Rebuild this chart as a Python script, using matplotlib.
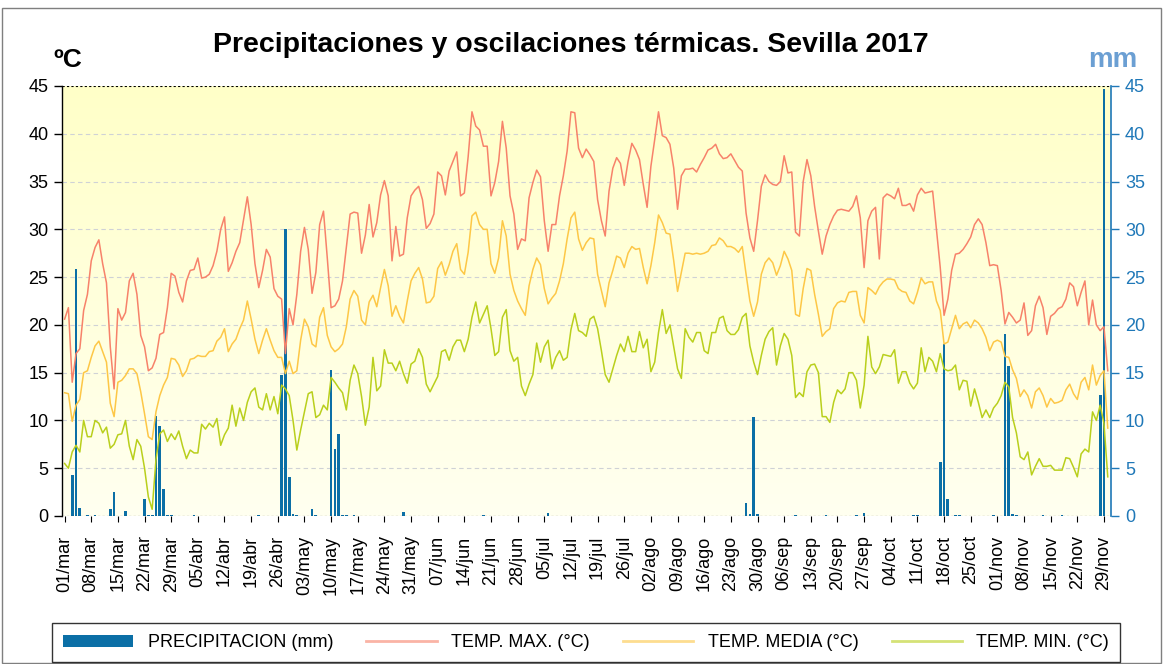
import numpy as np
import pandas as pd
import matplotlib
matplotlib.use("Agg")
import matplotlib.pyplot as plt
from matplotlib import font_manager
from matplotlib.patches import Rectangle
from matplotlib.colors import LinearSegmentedColormap

# ---------------- data ----------------
start_date = "2017-03-01"
end_date = "2017-11-30"
month_abbr = ["ene", "feb", "mar", "abr", "may", "jun", "jul", "ago", "sep", "oct", "nov", "dic"]

precip = [
    0, 0, 4.3, 25.9, 0.8, 0, 0.1, 0, 0.1, 0,
    0, 0, 0.7, 2.5, 0, 0, 0.5, 0, 0, 0,
    0, 1.8, 0.1, 0.1, 10.5, 9.4, 2.8, 0.1, 0.1, 0,
    0, 0, 0, 0, 0.1, 0, 0, 0, 0, 0,
    0, 0, 0, 0, 0, 0, 0, 0, 0, 0,
    0, 0.1, 0, 0, 0, 0, 0, 14.8, 30.0, 4.1,
    0.2, 0.1, 0, 0, 0, 0.7, 0.1, 0, 0, 0,
    15.3, 7.0, 8.6, 0.1, 0.1, 0, 0.1, 0, 0, 0,
    0, 0, 0, 0, 0, 0, 0, 0, 0, 0.4,
    0, 0, 0, 0, 0, 0, 0, 0, 0, 0,
    0, 0, 0, 0, 0, 0, 0, 0, 0, 0,
    0.1, 0, 0, 0, 0, 0, 0, 0, 0, 0,
    0, 0, 0, 0, 0, 0, 0, 0.3, 0, 0,
    0, 0, 0, 0, 0, 0, 0, 0, 0, 0,
    0, 0, 0, 0, 0, 0, 0, 0, 0, 0,
    0, 0, 0, 0, 0, 0, 0, 0, 0, 0,
    0, 0, 0, 0, 0, 0, 0, 0, 0, 0,
    0, 0, 0, 0, 0, 0, 0, 0, 0, 1.4,
    0.2, 10.4, 0.2, 0, 0, 0, 0, 0, 0, 0,
    0, 0, 0.1, 0, 0, 0, 0, 0, 0, 0,
    0.1, 0, 0, 0, 0, 0, 0, 0, 0.1, 0,
    0.3, 0, 0, 0, 0, 0, 0, 0, 0, 0,
    0, 0, 0, 0.1, 0.1, 0, 0, 0, 0, 0,
    5.7, 18.0, 1.8, 0, 0.1, 0.1, 0, 0, 0, 0,
    0, 0, 0, 0, 0.1, 0, 0, 19.0, 15.7, 0.2,
    0.1, 0, 0, 0, 0, 0, 0, 0.1, 0, 0,
    0, 0, 0.1, 0, 0, 0, 0, 0, 0, 0,
    0, 0, 12.7, 44.7, 0,
]

tmax = [
    20.6, 21.8, 14.0, 17.0, 17.5, 21.5, 23.2, 26.7, 28.1, 28.9,
    26.4, 24.4, 17.7, 13.3, 21.7, 20.5, 21.3, 24.6, 25.4, 23.2,
    18.9, 17.7, 15.2, 15.5, 16.5, 19.0, 19.2, 21.8, 25.4, 25.1,
    23.4, 22.4, 24.6, 25.7, 25.8, 27.0, 24.9, 25.0, 25.3, 26.2,
    27.7, 30.0, 31.3, 25.6, 26.5, 27.7, 28.6, 31.0, 33.4, 30.5,
    26.4, 23.9, 25.7, 27.9, 27.1, 23.8, 23.0, 22.7, 17.0, 21.7,
    20.0, 23.2, 27.7, 30.2, 27.9, 23.3, 25.5, 30.5, 31.9,
    27.0, 21.8, 22.0, 22.7, 24.6, 28.1, 31.6, 31.8, 31.7, 27.5,
    29.4, 32.6, 29.2, 30.7, 33.6, 35.1, 33.5, 26.7, 30.3, 27.2,
    27.4, 31.2, 33.5, 34.1, 34.5, 33.1, 30.1, 30.6, 31.6, 36.0,
    35.6, 33.6, 36.1, 37.1, 38.1, 33.5, 33.8, 37.6, 42.3, 40.8,
    40.4, 38.7, 38.7, 33.5, 34.9, 37.1, 41.3, 38.5, 33.5, 31.6,
    27.9, 29.0, 28.8, 33.3, 34.9, 36.2, 35.5, 30.9, 27.7, 30.5,
    30.5, 33.5, 35.6, 38.2, 42.3, 42.2, 38.5,
    37.5, 38.4, 37.8, 37.1, 33.1, 30.9, 29.3, 34.0, 36.4, 37.5,
    36.9, 34.6, 37.1, 39.0, 38.3, 37.3, 34.7, 32.3, 36.6, 39.4,
    42.3, 39.8, 39.6, 38.9, 36.4, 32.1, 35.6, 36.3, 36.3, 36.4,
    36.0, 36.8, 37.5, 38.3, 38.5, 38.9, 37.9, 37.4, 37.5, 37.9,
    37.2, 36.5, 36.1, 31.7, 29.1, 27.7, 30.9, 34.5, 35.7, 35.0,
    34.7, 34.6, 35.0, 37.7, 35.9, 36.0, 29.7, 29.3, 35.0, 37.3,
    35.6, 32.4, 29.8, 27.4, 29.3, 30.5,
    31.4, 32.0, 32.1, 32.0, 31.9, 32.4, 33.5, 31.2, 26.0, 30.9,
    31.9, 32.3, 26.9, 33.3, 33.7, 33.5, 33.2, 34.3, 32.5, 32.5,
    32.7, 31.9, 33.6, 34.3, 33.8, 33.9, 34.0, 30.0, 26.0, 21.0,
    22.7, 25.7, 27.4, 27.5, 27.9, 28.5, 29.2, 30.5, 31.1, 30.5,
    28.6, 26.2, 26.3, 26.2, 23.6, 20.1, 21.3, 20.8, 20.2, 20.5,
    22.3, 18.9, 19.4, 22.0, 23.0, 21.8, 19.0, 20.9, 21.2, 21.7,
    21.9, 22.7, 24.4, 24.0, 22.0, 23.4, 24.6, 20.0, 22.6, 20.0,
    19.4, 19.8, 15.2,
]

tmed = [
    12.9, 12.8, 9.9, 11.6, 12.2, 15.0, 15.2, 16.6, 17.8, 18.3,
    17.2, 16.1, 11.8, 10.4, 14.0, 14.2, 14.7, 15.4, 15.4, 14.9,
    13.0, 10.7, 8.3, 8.0, 10.9, 12.6, 13.7, 14.5, 16.5, 16.4,
    15.8, 14.6, 15.2, 16.4, 16.5, 16.8, 16.7, 16.7, 17.2, 17.3,
    18.3, 18.7, 19.6, 17.2, 18.0, 18.5, 19.6, 20.5, 22.5, 20.6,
    18.5, 17.0, 18.4, 19.6, 18.4, 17.3, 16.6, 16.6, 14.9, 16.2,
    14.9, 15.2, 18.4, 20.6, 19.8, 18.0, 17.7, 20.8, 21.8,
    18.9, 17.7, 17.2, 17.5, 18.0, 19.8, 22.7, 23.6, 23.0, 20.5,
    20.0, 22.4, 23.1, 21.9, 23.9, 25.8, 24.1, 20.9, 22.0, 20.9,
    20.2, 22.5, 24.6, 25.4, 26.0, 24.8, 22.3, 22.4, 23.0, 25.9,
    26.6, 25.2, 26.3, 27.7, 28.5, 25.8, 25.3, 27.6, 31.4, 31.8,
    30.5, 30.0, 30.0, 26.4, 25.4, 27.0, 30.9, 29.3, 25.3, 23.6,
    22.5, 21.7, 21.0, 24.1, 25.8, 27.0, 26.3, 23.8, 22.2, 22.8,
    23.3, 24.6, 26.4, 29.0, 31.2, 31.8, 29.0,
    27.8, 28.6, 29.1, 29.0, 25.3, 23.6, 21.9, 24.4, 25.7, 27.2,
    27.0, 26.0, 27.5, 28.2, 27.9, 28.0, 26.0, 24.3, 26.2, 28.6,
    31.5, 30.7, 29.6, 29.5, 26.7, 23.5, 25.5, 27.5, 27.5, 27.4,
    27.5, 27.4, 27.5, 27.7, 28.3, 28.4, 29.1, 28.8, 28.2, 28.2,
    28.0, 27.6, 28.2, 25.3, 22.5, 20.9, 22.4, 25.3, 26.5, 27.0,
    26.5, 25.2, 26.2, 27.7, 26.9, 25.7, 21.1, 20.9, 23.8, 25.9,
    25.7, 23.2, 21.1, 18.8, 19.3, 19.6,
    21.7, 22.3, 22.5, 22.4, 23.4, 23.5, 23.5, 21.0, 20.2, 23.9,
    23.6, 23.2, 24.0, 24.5, 24.8, 24.8, 24.7, 23.8, 23.5, 23.4,
    22.5, 22.2, 23.4, 24.9, 24.3, 24.5, 24.5, 22.5, 21.5, 18.0,
    18.2, 19.6, 21.0, 19.6, 20.1, 20.3, 19.7, 20.5, 20.2, 19.6,
    18.7, 17.3, 18.2, 18.4, 18.2, 16.7, 16.6, 15.3, 14.4, 12.5,
    13.2, 12.6, 11.3, 13.0, 13.4, 12.6, 11.4, 12.3, 11.8, 11.9,
    12.1, 13.2, 13.8, 12.8, 12.2, 14.0, 14.5, 13.2, 15.8, 13.7,
    14.7, 15.2, 9.2,
]

tmin = [
    5.5, 5.0, 6.7, 7.4, 6.7, 10.0, 8.3, 8.3, 10.0, 9.7,
    8.7, 9.3, 7.1, 7.5, 8.5, 8.6, 10.0, 7.3, 5.9, 8.0,
    7.3, 5.0, 2.0, 0.7, 5.9, 8.6, 9.0, 7.8, 8.6, 8.0,
    8.9, 7.3, 6.0, 6.9, 6.6, 6.6, 9.6, 9.1, 9.7, 9.3,
    10.2, 7.4, 8.5, 9.2, 11.6, 9.4, 11.3, 10.0, 11.9, 13.0,
    13.4, 11.4, 11.1, 12.8, 11.1, 12.5, 10.7, 13.7, 13.3, 12.6,
    10.0, 6.9, 9.0, 10.9, 12.8, 13.0, 10.3, 10.6, 11.6,
    11.1, 14.5, 14.0, 13.4, 12.9, 11.1, 14.2, 15.8, 14.9, 12.5,
    9.5, 11.4, 16.6, 13.1, 13.6, 17.4, 16.0, 16.0, 15.2, 16.2,
    14.9, 13.9, 15.9, 16.2, 17.5, 16.6, 13.8, 13.0, 13.8, 14.6,
    17.2, 17.4, 16.3, 17.7, 18.4, 18.4, 17.2, 18.5, 20.8, 22.4,
    20.2, 21.1, 22.0, 19.6, 16.8, 17.2, 20.8, 21.6, 17.3, 16.2,
    16.6, 13.6, 12.6, 13.8, 14.8, 18.1, 16.1, 17.7, 18.4, 15.4,
    16.6, 17.3, 16.3, 16.6, 19.5, 21.2, 19.4,
    19.2, 18.8, 20.6, 20.9, 19.6, 17.3, 14.8, 14.0, 15.4, 16.8,
    18.0, 17.2, 18.8, 17.2, 17.2, 19.3, 17.6, 18.5, 15.1, 16.1,
    19.2, 21.6, 19.1, 20.0, 17.7, 15.4, 14.4, 19.6, 18.7, 18.2,
    19.2, 19.2, 17.3, 17.0, 19.2, 19.2, 20.7, 20.9, 19.4, 19.0,
    19.0, 19.5, 20.8, 21.2, 17.8, 16.1, 14.8, 16.8, 18.5, 19.3,
    19.7, 15.8, 17.8, 19.1, 18.5, 16.8, 12.4, 12.9, 12.5, 15.1,
    15.8, 15.9, 15.0, 10.4, 10.4, 9.8,
    11.9, 13.2, 12.8, 13.3, 15.0, 15.0, 14.2, 11.3, 13.7, 18.8,
    15.6, 14.9, 15.6, 16.9, 16.8, 16.7, 17.4, 13.9, 15.1, 15.1,
    13.9, 13.3, 13.9, 17.6, 15.1, 16.6, 16.2, 15.1, 17.0, 15.4,
    15.2, 15.3, 15.8, 13.2, 14.2, 14.1, 11.5, 13.3, 11.9, 10.3,
    11.1, 10.3, 11.3, 11.8, 12.6, 14.0, 13.5, 10.3, 8.7, 6.2,
    5.9, 6.7, 4.3, 5.2, 6.0, 5.2, 5.2, 5.3, 4.8, 4.8,
    4.8, 6.1, 6.0, 5.1, 4.1, 6.5, 7.0, 6.7, 10.9, 10.0,
    11.6, 9.7, 4.1,
]

labels = ["PRECIPITACION (mm)", "TEMP. MAX. (°C)", "TEMP. MEDIA (°C)", "TEMP. MIN. (°C)"]
title = "Precipitaciones y oscilaciones térmicas. Sevilla 2017"

# ---------------- style ----------------
names = {f.name for f in font_manager.fontManager.ttflist}
has_narrow = "Liberation Sans Narrow" in names
narrow = "Liberation Sans Narrow" if has_narrow else "Liberation Sans"
plt.rcParams["font.family"] = ["Liberation Sans", "DejaVu Sans"]

c_bar = "#0b6fa6"
c_max = "#f7826a"
c_med = "#fdc746"
c_min = "#b9cf1c"
c_right = "#1f78b8"

dates = pd.date_range(start_date, end_date, freq="D")
x = np.arange(len(dates))

W, H = 1164, 664
fig = plt.figure(figsize=(W / 100, H / 100), dpi=100)
ax = fig.add_axes([62.5 / W, 1 - 516 / H, (1111 - 62.5) / W, 430 / H])

xmin, xmax = -0.55, len(dates) - 0.15
ax.set_xlim(xmin, xmax)
ax.set_ylim(0, 45)

# background gradient
cmap = LinearSegmentedColormap.from_list("bg", ["#fffff0", "#ffffc8"])
ax.imshow(np.linspace(0, 1, 256).reshape(-1, 1), extent=[xmin, xmax, 0, 45],
          aspect="auto", cmap=cmap, origin="lower", zorder=0)

for yv in range(5, 45, 5):
    ax.axhline(yv, color="#cfd2d6", ls=(0, (4, 3)), lw=0.8, zorder=1)
ax.axhline(45, color="black", ls=(0, (2, 2)), lw=0.8, zorder=5)
ax.axhline(0, color="black", ls=(0, (2, 2)), lw=0.8, zorder=5)

bars = ax.bar(x, precip, width=0.72, color=c_bar, zorder=2, label=labels[0])
l1, = ax.plot(x, tmax, color=c_max, lw=1.1, zorder=3, label=labels[1])
l2, = ax.plot(x, tmed, color=c_med, lw=1.1, zorder=3, label=labels[2])
l3, = ax.plot(x, tmin, color=c_min, lw=1.1, zorder=3, label=labels[3])

for s in ["top", "bottom", "right"]:
    ax.spines[s].set_visible(False)
ax.spines["left"].set_color("black")
ax.spines["left"].set_linewidth(1.0)

ax.set_yticks(range(0, 46, 5))
ax.tick_params(axis="y", length=6, width=1, labelsize=13, colors="black", pad=4)

tick_idx = x[::7]
ax.set_xticks(tick_idx)
ax.set_xticklabels([f"{dates[i].day:02d}/{month_abbr[dates[i].month - 1]}" for i in tick_idx],
                   rotation=90, fontsize=13)
ax.tick_params(axis="x", length=4, width=0.8, pad=10)

ax2 = ax.twinx()
ax2.set_ylim(0, 45)
ax2.set_yticks(range(0, 46, 5))
for s in ["top", "bottom", "left"]:
    ax2.spines[s].set_visible(False)
ax2.spines["right"].set_color(c_right)
ax2.spines["right"].set_linewidth(1.2)
ax2.tick_params(axis="y", length=6, width=1, labelsize=13, colors=c_right, labelcolor=c_right, pad=4)

# titles
fig.text(571 / W, 1 - 45 / H, title, ha="center", va="center",
         fontsize=22 if has_narrow else 20.5, fontweight="bold", family=narrow)
fig.text(68 / W, 1 - 60 / H, "ºC", ha="center", va="center", fontsize=19,
         fontweight="bold", family=narrow)
fig.text(1113 / W, 1 - 60 / H, "mm", ha="center", va="center", fontsize=20,
         fontweight="bold", family=narrow, color="#6b9fd3")

# legend
leg = fig.legend([bars, l1, l2, l3], labels, loc="lower left",
                 bbox_to_anchor=(52 / W, 2 / H, (1120 - 52) / W, 42 / H),
                 mode="expand", ncol=4, frameon=True, fancybox=False,
                 edgecolor="black", fontsize=13, handlelength=3.9,
                 borderaxespad=0, borderpad=0.6)
leg.get_frame().set_linewidth(1.0)
for h in leg.legend_handles[1:]:
    h.set_linewidth(2.0)
    h.set_alpha(0.6)

# outer border
fig.patches.append(Rectangle((2 / W, 1 / H), (1161 - 2) / W, (656 - 1) / H,
                             transform=fig.transFigure, fill=False,
                             edgecolor="#7f7f7f", lw=1.0))

fig.savefig("out.png", dpi=100)
